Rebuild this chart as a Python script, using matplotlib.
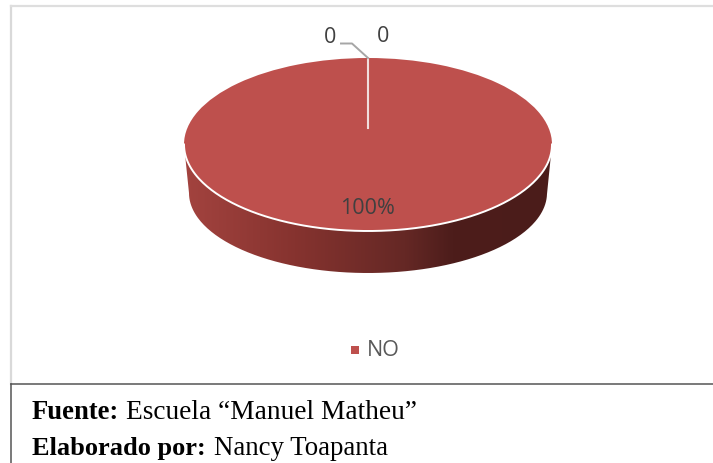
import numpy as np
import matplotlib
matplotlib.use('Agg')
import matplotlib.pyplot as plt
from matplotlib.colors import LinearSegmentedColormap
from matplotlib.patches import PathPatch
from matplotlib.path import Path

# datos del grafico
categorias = ['', '', 'NO']
valores = [0, 0, 100]
etiquetas_cero = ['0', '0']
etiqueta_pct = '100%'
fuente = 'Escuela “Manuel Matheu”'
elaborado = 'Nancy Toapanta'

ANCHO, ALTO = 713, 463
ROJO = '#be504d'
TEXTO = '#404040'

fig = plt.figure(figsize=(ANCHO / 100, ALTO / 100), dpi=100)

# ejes en pixeles para marco, lado 3D y textos
ax = fig.add_axes([0, 0, 1, 1])
ax.set_xlim(0, ANCHO)
ax.set_ylim(ALTO, 0)
ax.axis('off')

# marco
ax.plot([11, 11], [6, 384], color='#d9d9d9', lw=1.6)
ax.plot([11, ANCHO], [6, 6], color='#dedede', lw=1.6)
ax.plot([11, ANCHO], [384, 384], color='#555555', lw=1.1)
ax.plot([11, 11], [384, ALTO], color='#555555', lw=1.1)

# lado del pastel con degradado, la base es algo mas angosta
cx, cy, rx, ry = 368, 144.5, 184, 86.5
rx_base, ry_base, cy_base = 179, 80, 193
t = np.linspace(np.pi, 0, 200)
x_sup = cx + rx * np.cos(t)
y_sup = cy + ry * np.sin(t)
x_base = cx + rx_base * np.cos(t)
y_base = cy_base + ry_base * np.sin(t)
xs = np.r_[x_sup, x_base[::-1]]
ys = np.r_[y_sup, y_base[::-1]]
lado = PathPatch(Path(np.c_[xs, ys]), transform=ax.transData, fc='none', ec='none')
ax.add_patch(lado)
cmap = LinearSegmentedColormap.from_list('lado', [(0, '#a3433f'), (0.3, '#86332f'), (0.6, '#652825'),
                                                  (0.73, '#4d1d1b'), (1, '#4b1c1a')])
img = ax.imshow(np.linspace(0, 1, 256).reshape(1, -1), cmap=cmap, aspect='auto',
                extent=[cx - rx, cx + rx, cy_base + ry_base, cy], zorder=2)
img.set_clip_path(lado)
ax.set_xlim(0, ANCHO)
ax.set_ylim(ALTO, 0)

# tapa del pastel
ax_pie = fig.add_axes([(cx - rx) / ANCHO, 1 - (cy + ry) / ALTO, 2 * rx / ANCHO, 2 * ry / ALTO])
ax_pie.patch.set_alpha(0)
cunas, _ = ax_pie.pie(valores, colors=[ROJO, ROJO, ROJO], startangle=90, counterclock=False,
                      radius=1, wedgeprops={'linewidth': 0})
ax_pie.set_aspect('auto')
ax_pie.set_xlim(-1, 1)
ax_pie.set_ylim(-1, 1)
ax_pie.set_zorder(3)

# capa superior para borde, guia y etiquetas
ax2 = fig.add_axes([0, 0, 1, 1], zorder=4)
ax2.set_xlim(0, ANCHO)
ax2.set_ylim(ALTO, 0)
ax2.axis('off')
ax2.plot(x_sup, y_sup, color='white', lw=1.4)
ax2.plot([368, 368], [58, 128], color='#f0dedd', lw=1.5)
ax2.plot([341, 352, 368], [43.5, 43.5, 58], color='#a6a6a6', lw=1.4)

fuente_graf = 'Open Sans'
ax2.text(330, 37.5, etiquetas_cero[0], color=TEXTO, fontsize=15.5, family=fuente_graf, ha='center', va='center')
ax2.text(383, 36.5, etiquetas_cero[1], color=TEXTO, fontsize=15.5, family=fuente_graf, ha='center', va='center')
ax2.text(367.5, 208.5, etiqueta_pct, color=TEXTO, fontsize=15.5, family=fuente_graf, ha='center', va='center')

# leyenda
ax2.scatter([354.5], [349.5], marker='s', s=30, color=ROJO, linewidths=0)
ax2.text(367, 350.5, categorias[2], color='#595959', fontsize=15.5, family=fuente_graf, ha='left', va='center')

# pie de figura
serif = 'Liberation Serif'
ax2.text(32, 419, 'Fuente:', fontsize=19.2, family=serif, weight='bold', color='black', va='baseline')
ax2.text(126, 419, fuente, fontsize=19.7, family=serif, color='black', va='baseline')
ax2.text(32, 455, 'Elaborado por:', fontsize=19, family=serif, weight='bold', color='black', va='baseline')
ax2.text(214, 455, elaborado, fontsize=19.4, family=serif, color='black', va='baseline')

fig.savefig('out.png', dpi=100)
